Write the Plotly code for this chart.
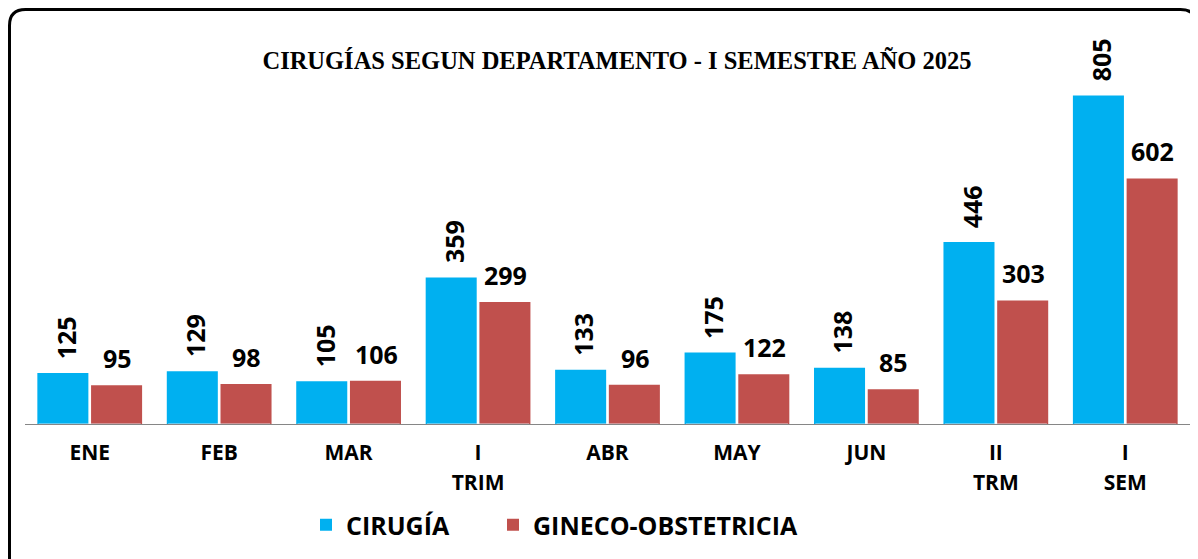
import plotly.graph_objects as go

categories = ["ENE", "FEB", "MAR", "I TRIM", "ABR", "MAY", "JUN", "II TRM", "I SEM"]
tick_line1 = ["ENE", "FEB", "MAR", "I", "ABR", "MAY", "JUN", "II", "I"]
tick2_cats = ["I TRIM", "II TRM", "I SEM"]
tick_line2 = ["TRIM", "TRM", "SEM"]
cirugia = [125, 129, 105, 359, 133, 175, 138, 446, 805]
gineco = [95, 98, 106, 299, 96, 122, 85, 303, 602]

OFF = 8  # page body margin
W, H = 1190, 551
L, R, T, B = 17, 8, 52, 135
pw, ph = W - L - R, H - T - B

def px(x):
    return (x - OFF - L) / pw

def py(y):
    return (H - B - (y - OFF)) / ph

LABEL_FONT = dict(family="Open Sans", size=25, color="black", weight="bold")
LEGEND_FONT = dict(family="Open Sans", size=25, color="black", weight="bold")

fig = go.Figure()
fig.add_trace(go.Bar(
    x=categories, y=cirugia, name="CIRUGÍA", legend="legend",
    marker=dict(color="#00B0F0", line=dict(width=0)),
))
fig.add_trace(go.Bar(
    x=categories, y=gineco, name="GINECO-OBSTETRICIA", legend="legend2",
    marker=dict(color="#C0504D", line=dict(width=0)),
))

annotations = []
for c, v in zip(categories, cirugia):
    annotations.append(dict(x=c, y=v, xref="x", yref="y", text=str(v), showarrow=False,
                            textangle=-90, xshift=-24, yshift=12, yanchor="bottom",
                            xanchor="center", font=LABEL_FONT))
for c, v in zip(categories, gineco):
    annotations.append(dict(x=c, y=v, xref="x", yref="y", text=str(v), showarrow=False,
                            textangle=0, xshift=27.5, yshift=8, yanchor="bottom",
                            xanchor="center", font=LABEL_FONT))

# rounded border
x0, y0, x1, y1, r = 9.5, 9.5, 1196.5, 575, 16
path = (
    f"M {px(x0 + r)},{py(y0)} L {px(x1 - r)},{py(y0)} Q {px(x1)},{py(y0)} {px(x1)},{py(y0 + r)} "
    f"L {px(x1)},{py(y1 - r)} Q {px(x1)},{py(y1)} {px(x1 - r)},{py(y1)} "
    f"L {px(x0 + r)},{py(y1)} Q {px(x0)},{py(y1)} {px(x0)},{py(y1 - r)} "
    f"L {px(x0)},{py(y0 + r)} Q {px(x0)},{py(y0)} {px(x0 + r)},{py(y0)} Z"
)

fig.update_layout(
    width=W, height=H,
    margin=dict(l=L, r=R, t=T, b=B),
    paper_bgcolor="white", plot_bgcolor="white",
    barmode="group", bargap=0.17, bargroupgap=0.05,
    title=dict(
        text="CIRUGÍAS SEGUN DEPARTAMENTO - I SEMESTRE AÑO 2025",
        font=dict(family="Liberation Serif", size=24.5, color="black", weight="bold"),
        x=(617 - OFF) / W, xanchor="center", xref="container",
        y=1 - (60 - OFF) / H, yanchor="middle", yref="container",
    ),
    xaxis=dict(
        type="category", categoryorder="array", categoryarray=categories,
        range=[-0.5, 8.5],
        tickmode="array", tickvals=categories, ticktext=tick_line1,
        showline=True, linecolor="#868686", linewidth=1,
        ticks="outside", ticklen=10, tickcolor="rgba(0,0,0,0)",
        tickfont=dict(family="Open Sans", size=21, color="black", weight="bold"),
        showgrid=False, zeroline=False, fixedrange=True,
    ),
    xaxis2=dict(
        type="category", categoryorder="array", categoryarray=categories,
        range=[-0.5, 8.5], overlaying="x", anchor="y", side="bottom",
        tickmode="array", tickvals=tick2_cats, ticktext=tick_line2,
        showline=False, ticks="outside", ticklen=40, tickcolor="rgba(0,0,0,0)",
        tickfont=dict(family="Open Sans", size=21, color="black", weight="bold"),
        showgrid=False, zeroline=False,
    ),
    yaxis=dict(range=[0, ph / 0.408], visible=False, showgrid=False, zeroline=False),
    legend=dict(
        orientation="h", x=px(306), xanchor="left", y=py(525), yanchor="middle",
        font=LEGEND_FONT, bgcolor="rgba(0,0,0,0)",
    ),
    legend2=dict(
        orientation="h", x=px(493), xanchor="left", y=py(525), yanchor="middle",
        font=LEGEND_FONT, bgcolor="rgba(0,0,0,0)",
    ),
    annotations=annotations,
    shapes=[dict(type="path", path=path, xref="paper", yref="paper",
                 line=dict(color="black", width=3), fillcolor="rgba(0,0,0,0)", layer="above")],
    showlegend=True,
)

# invisible trace on xaxis2 so the overlay axis renders
fig.add_trace(go.Bar(x=categories, y=[0] * len(categories), xaxis="x2", showlegend=False,
                     marker=dict(color="rgba(0,0,0,0)"), hoverinfo="skip"))

fig.write_html("out.html")
